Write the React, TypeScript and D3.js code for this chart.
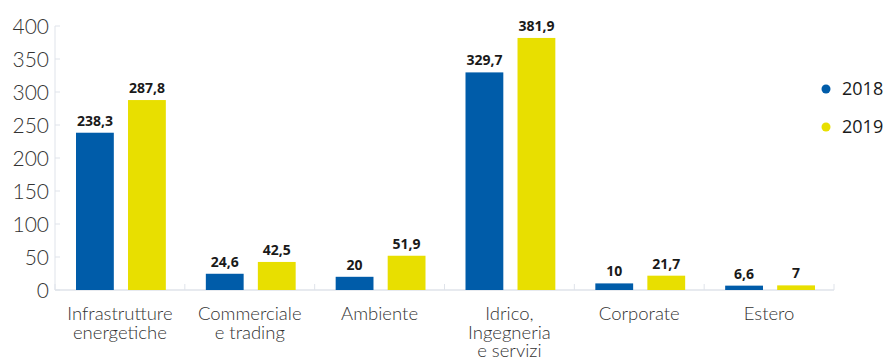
import React from "react";
import * as d3 from "d3";

const categories = [
  ["Infrastrutture", "energetiche"],
  ["Commerciale", "e trading"],
  ["Ambiente"],
  ["Idrico,", "Ingegneria", "e servizi"],
  ["Corporate"],
  ["Estero"],
];
const years = ["2018", "2019"];
const values2018 = [238.3, 24.6, 20, 329.7, 10, 6.6];
const values2019 = [287.8, 42.5, 51.9, 381.9, 21.7, 7];
const yTicks = [0, 50, 100, 150, 200, 250, 300, 350, 400];
const colors = ["#005ca9", "#e8df00"];

const W = 885;
const H = 358;

export default function App() {
  const keys = categories.map((_, i) => String(i));
  const x0 = d3.scaleBand<string>().domain(keys).range([55, 834]).padding(0);
  const bw = x0.bandwidth();
  const x1 = d3
    .scaleBand<string>()
    .domain(years)
    .range([21, bw - 19])
    .paddingInner(0.273)
    .paddingOuter(0);
  const y = d3.scaleLinear().domain([0, 400]).range([290, 26]);
  const series = [values2018, values2019];
  const fmt = (v: number) => String(v).replace(".", ",");

  return (
    <svg
      width={W}
      height={H}
      style={{ position: "absolute", left: 0, top: 0, background: "#fff" }}
    >
      {/* y axis */}
      <line x1={55} x2={55} y1={y(400)} y2={y(0)} stroke="#dfe3ea" strokeWidth={1} />
      {yTicks.map((t) => (
        <g key={t}>
          <line x1={55} x2={60} y1={y(t)} y2={y(t)} stroke="#dfe3ea" strokeWidth={1} />
          <text
            x={49}
            y={y(t)}
            dy="0.36em"
            textAnchor="end"
            fontFamily="Lato, sans-serif"
            fontWeight={300}
            fontSize={21}
            fill="#333"
          >
            {t}
          </text>
        </g>
      ))}
      {/* x axis */}
      <line x1={55} x2={834} y1={y(0)} y2={y(0)} stroke="#dfe3ea" strokeWidth={1.5} />
      {keys.concat(["6"]).map((k, i) => {
        const xx = 55 + i * bw;
        return (
          <line key={"t" + k} x1={xx} x2={xx} y1={y(0) - 6} y2={y(0)} stroke="#dfe3ea" strokeWidth={1} />
        );
      })}
      {/* bars */}
      {keys.map((k, i) => (
        <g key={"b" + k} transform={`translate(${x0(k)},0)`}>
          {years.map((yr, j) => {
            const v = series[j][i];
            const bx = x1(yr)!;
            return (
              <g key={yr}>
                <rect
                  x={bx}
                  y={y(v)}
                  width={x1.bandwidth()}
                  height={y(0) - y(v)}
                  fill={colors[j]}
                />
                <text
                  x={bx + x1.bandwidth() / 2}
                  y={y(v) - 7}
                  textAnchor="middle"
                  fontFamily="'Open Sans', sans-serif"
                  fontWeight={700}
                  fontSize={14}
                  fill="#1a1a1a"
                >
                  {fmt(v)}
                </text>
              </g>
            );
          })}
        </g>
      ))}
      {/* category labels */}
      {categories.map((lines, i) =>
        lines.map((l, li) => (
          <text
            key={"c" + i + "-" + li}
            x={x0(String(i))! + bw / 2}
            y={320 + li * 18.5}
            textAnchor="middle"
            fontFamily="Lato, sans-serif"
            fontWeight={300}
            fontSize={18.5}
            fill="#333"
          >
            {l}
          </text>
        ))
      )}
      {/* legend */}
      {years.map((yr, j) => (
        <g key={"l" + yr} transform={`translate(826,${89 + j * 38})`}>
          <circle cx={0} cy={0} r={4.5} fill={colors[j]} />
          <text
            x={16}
            y={0}
            dy="0.36em"
            fontFamily="'Open Sans', sans-serif"
            fontSize={18}
            fill="#1a1a1a"
          >
            {yr}
          </text>
        </g>
      ))}
    </svg>
  );
}
